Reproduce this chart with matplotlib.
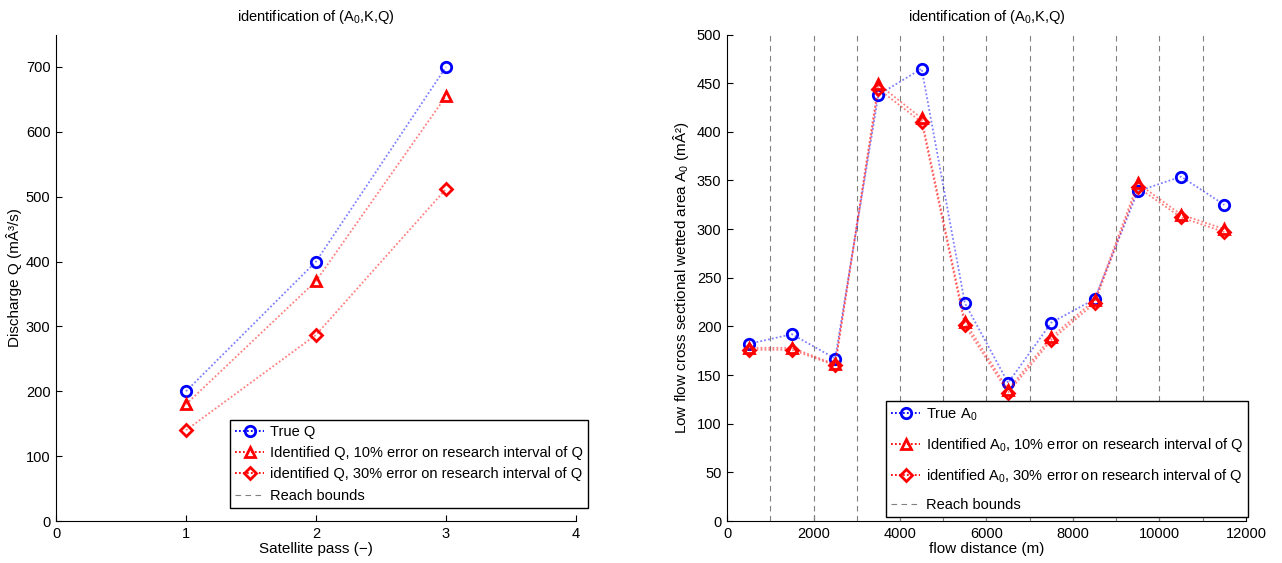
import matplotlib
matplotlib.use('Agg')
import matplotlib.pyplot as plt
import numpy as np

plt.rcParams['font.family'] = ['Liberation Sans', 'DejaVu Sans']
plt.rcParams['mathtext.fontset'] = 'custom'
plt.rcParams['mathtext.rm'] = 'Liberation Sans'
plt.rcParams['mathtext.it'] = 'Liberation Sans'
plt.rcParams['font.size'] = 10.5

# left panel: discharge per satellite pass
passes = [1, 2, 3]
q_true = [200, 400, 700]
q_10 = [180, 370, 655]
q_30 = [140, 287, 512]

# right panel: low flow area along the river
dist = [500, 1500, 2500, 3500, 4500, 5500, 6500, 7500, 8500, 9500, 10500, 11500]
a0_true = [182, 192, 167, 438, 465, 224, 142, 204, 228, 339, 354, 325]
a0_10 = [178, 178, 161, 449, 414, 205, 135, 189, 227, 347, 315, 300]
a0_30 = [176, 176, 160, 444, 410, 201, 132, 186, 224, 343, 312, 297]
reach_bounds = [1000, 2000, 3000, 4000, 5000, 6000, 7000, 8000, 9000, 10000, 11000]

title = 'identification of ($\\mathregular{A_0}$,K,Q)'
dots = (0, (1, 1.2))   # matlab-like dense dotted line


def style_axes(ax):
    ax.spines['top'].set_visible(False)
    ax.spines['right'].set_visible(False)
    ax.tick_params(direction='in', length=4, width=0.8, top=False, right=False,
                   labelsize=10.5, pad=4)


def plot_series(ax, x, y, color, marker, label, ms=7.5):
    ax.plot(x, y, linestyle=dots, color=color, alpha=0.5, lw=1.3)
    ax.plot(x, y, linestyle='none', marker=marker, mfc='none', mec=color,
            mew=2, ms=ms)
    # proxy for the legend (dotted line + marker)
    return ax.plot([], [], linestyle=dots, color=color, lw=1.3, alpha=1,
                   marker=marker, mfc='none', mec=color, mew=2, ms=ms,
                   label=label)[0]


fig = plt.figure(figsize=(12.82, 5.63), dpi=100)
ax1 = fig.add_axes([0.0437, 0.0746, 0.4056, 0.864])
ax2 = fig.add_axes([0.5671, 0.0746, 0.4048, 0.864])

# --- left ---
h1 = plot_series(ax1, passes, q_true, 'blue', 'o', 'True Q')
h2 = plot_series(ax1, passes, q_10, 'red', '^', 'Identified Q, 10% error on research interval of Q')
h3 = plot_series(ax1, passes, q_30, 'red', 'D', 'identified Q, 30% error on research interval of Q', ms=6)
h4, = ax1.plot([], [], linestyle=(0, (5, 4)), color='0.5', lw=0.8, label='Reach bounds')
ax1.set_xlim(0, 4)
ax1.set_ylim(0, 750)
ax1.set_xticks([0, 1, 2, 3, 4])
ax1.set_yticks(np.arange(0, 701, 100))
ax1.set_xlabel('Satellite pass (\u2212)', labelpad=1, fontsize=11)
ax1.set_ylabel('Discharge Q (m\u00c2\u00b3/s)', labelpad=3, fontsize=11)
ax1.set_title(title, pad=10, fontsize=10.5)
style_axes(ax1)
leg1 = ax1.legend(handles=[h1, h2, h3, h4], loc='lower left',
                  bbox_to_anchor=(0.335, 0.027), fancybox=False,
                  edgecolor='black', framealpha=1, handlelength=2.0,
                  handletextpad=0.4, borderaxespad=0, labelspacing=0.5,
                  borderpad=0.35, fontsize=10.5)
leg1.get_frame().set_linewidth(1.0)

# --- right ---
for xb in reach_bounds:
    ax2.axvline(xb, linestyle=(0, (5, 4)), color='0.5', lw=0.8)
g1 = plot_series(ax2, dist, a0_true, 'blue', 'o', 'True $\\mathregular{A_0}$')
g2 = plot_series(ax2, dist, a0_10, 'red', '^',
                 'Identified $\\mathregular{A_0}$, 10% error on research interval of Q')
g3 = plot_series(ax2, dist, a0_30, 'red', 'D',
                 'identified $\\mathregular{A_0}$, 30% error on research interval of Q', ms=6)
g4, = ax2.plot([], [], linestyle=(0, (5, 4)), color='0.5', lw=0.8, label='Reach bounds')
ax2.set_xlim(0, 12000)
ax2.set_ylim(0, 500)
ax2.set_xticks(np.arange(0, 12001, 2000))
ax2.set_yticks(np.arange(0, 501, 50))
ax2.set_xlabel('flow distance (m)', labelpad=1, fontsize=11)
ax2.set_ylabel('Low flow cross sectional wetted area $\\mathregular{A_0}$ (m\u00c2\u00b2)',
               labelpad=4, fontsize=11)
ax2.set_title(title, pad=10, fontsize=10.5)
style_axes(ax2)
leg2 = ax2.legend(handles=[g1, g2, g3, g4], loc='lower left',
                  bbox_to_anchor=(0.306, 0.008), fancybox=False,
                  edgecolor='black', framealpha=1, handlelength=2.0,
                  handletextpad=0.4, borderaxespad=0, labelspacing=0.9,
                  borderpad=0.35, fontsize=10.5)
leg2.get_frame().set_linewidth(1.0)

fig.savefig('out.png', dpi=100)
